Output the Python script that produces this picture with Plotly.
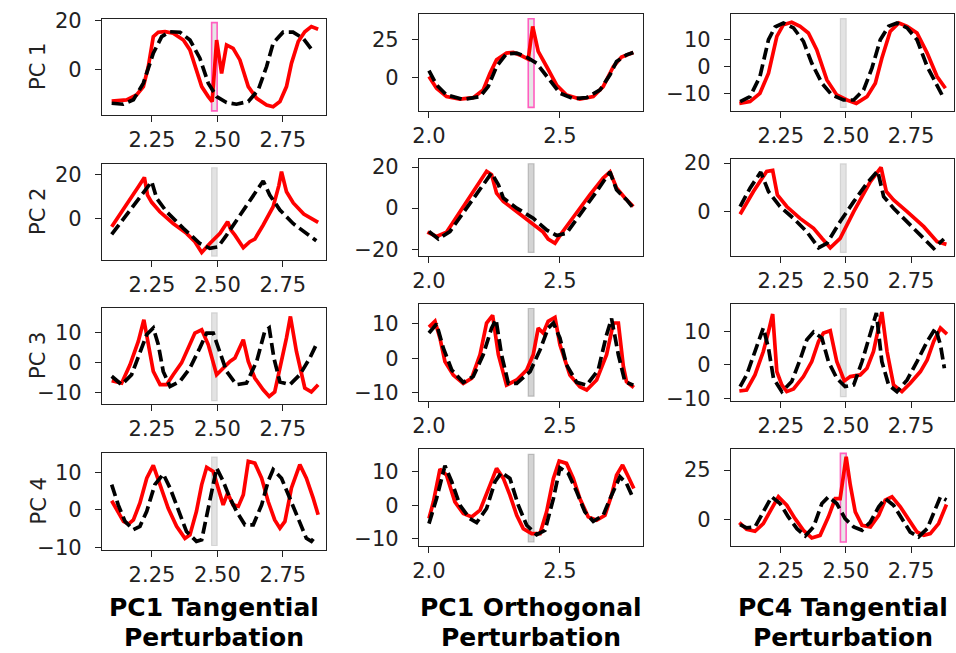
import plotly.graph_objects as go

# ---------------- data ----------------
# Panel (row, col) naming: pRC
p11_red_x = [2.096, 2.153, 2.191, 2.217, 2.236, 2.255, 2.274, 2.300, 2.331, 2.370, 2.395, 2.420, 2.440, 2.465, 2.480, 2.497, 2.516, 2.535, 2.560, 2.586, 2.618, 2.650, 2.688, 2.713, 2.739, 2.764, 2.783, 2.809, 2.834, 2.859, 2.885]
p11_red_y = [-12.7, -12.2, -10.2, -6.8, 1.4, 13.6, 15.4, 15.6, 15.0, 12.2, 8.2, 0.0, -6.8, -10.9, -12.9, 12.2, -1.4, 10.2, 8.8, 4.1, -6.8, -11.6, -14.3, -15.0, -12.9, -6.8, 2.7, 11.6, 15.6, 17.7, 16.6]
p11_blk_x = [2.096, 2.140, 2.179, 2.217, 2.255, 2.287, 2.319, 2.357, 2.395, 2.433, 2.465, 2.497, 2.535, 2.573, 2.618, 2.656, 2.688, 2.713, 2.751, 2.789, 2.828, 2.866]
p11_blk_y = [-13.6, -14.0, -12.2, -5.4, 6.8, 13.6, 15.6, 15.4, 12.2, 4.8, -5.4, -10.9, -13.3, -14.0, -12.9, -8.2, 1.4, 10.9, 15.4, 15.4, 12.9, 7.5]

p12_red_x = [2.000, 2.029, 2.067, 2.118, 2.169, 2.207, 2.233, 2.258, 2.296, 2.322, 2.354, 2.379, 2.396, 2.417, 2.449, 2.487, 2.525, 2.576, 2.627, 2.665, 2.704, 2.735, 2.780]
p12_red_y = [0.7, -7.1, -12.6, -14.2, -13.3, -8.2, 2.9, 11.7, 16.2, 16.6, 14.4, 12.2, 33.8, 17.3, 7.3, -4.9, -11.5, -14.2, -12.6, -6.0, 7.3, 13.5, 16.6]
p12_blk_x = [2.000, 2.029, 2.067, 2.131, 2.195, 2.226, 2.258, 2.296, 2.335, 2.373, 2.411, 2.449, 2.500, 2.551, 2.602, 2.653, 2.691, 2.716, 2.754, 2.780]
p12_blk_y = [4.6, -4.9, -11.5, -14.4, -12.6, -6.0, 7.3, 15.7, 16.2, 13.5, 9.5, 0.7, -10.4, -13.9, -13.3, -8.2, 1.8, 10.6, 15.0, 16.6]

p13_red_x = [2.091, 2.132, 2.170, 2.203, 2.235, 2.260, 2.292, 2.324, 2.356, 2.388, 2.427, 2.465, 2.504, 2.540, 2.581, 2.613, 2.638, 2.670, 2.703, 2.735, 2.773, 2.812, 2.850, 2.882]
p13_red_y = [-13.75, -13.1, -10.0, -2.5, 11.25, 15.6, 16.5, 15.0, 12.5, 6.25, -5.0, -10.6, -12.5, -13.75, -11.25, -6.25, 3.1, 13.1, 16.25, 15.0, 12.5, 5.0, -3.75, -8.1]
p13_blk_x = [2.094, 2.132, 2.170, 2.203, 2.228, 2.260, 2.299, 2.337, 2.369, 2.408, 2.446, 2.491, 2.530, 2.568, 2.600, 2.632, 2.664, 2.696, 2.735, 2.773, 2.812, 2.850, 2.876]
p13_blk_y = [-13.1, -11.25, -3.75, 10.0, 14.75, 16.25, 14.4, 9.4, 1.25, -6.25, -10.6, -12.5, -12.5, -8.75, -0.6, 10.0, 15.0, 16.25, 14.4, 10.0, 0.0, -7.5, -11.9]

p21_red_x = [2.096, 2.153, 2.198, 2.221, 2.233, 2.249, 2.280, 2.331, 2.382, 2.414, 2.440, 2.471, 2.510, 2.539, 2.552, 2.567, 2.599, 2.624, 2.643, 2.675, 2.713, 2.735, 2.745, 2.764, 2.790, 2.830, 2.885]
p21_red_y = [-3.8, 6.8, 14.4, 18.6, 10.6, 7.3, 3.0, -2.3, -6.8, -10.6, -15.5, -11.4, -6.8, -1.5, -5.3, -7.6, -13.3, -10.6, -9.4, -3.0, 5.3, 15.0, 21.2, 12.1, 7.0, 2.0, -1.8]
p21_blk_x = [2.096, 2.153, 2.204, 2.249, 2.268, 2.306, 2.370, 2.433, 2.471, 2.503, 2.535, 2.586, 2.637, 2.675, 2.700, 2.739, 2.789, 2.840, 2.878]
p21_blk_y = [-7.3, 1.5, 9.8, 16.7, 9.1, 3.0, -4.5, -11.4, -13.6, -12.9, -7.6, 1.5, 10.6, 17.0, 10.6, 3.8, -2.3, -6.8, -10.2]

p22_red_x = [1.994, 2.029, 2.067, 2.118, 2.169, 2.220, 2.239, 2.258, 2.284, 2.335, 2.385, 2.436, 2.455, 2.481, 2.506, 2.551, 2.614, 2.665, 2.691, 2.716, 2.748, 2.780]
p22_red_y = [-11.7, -13.8, -11.7, -1.6, 8.1, 17.9, 16.3, 7.3, 3.3, -1.6, -6.5, -11.7, -15.1, -17.1, -12.2, -4.1, 6.5, 14.6, 17.6, 9.8, 4.9, 0.8]
p22_blk_x = [2.000, 2.036, 2.080, 2.131, 2.182, 2.220, 2.239, 2.265, 2.284, 2.335, 2.398, 2.449, 2.487, 2.525, 2.576, 2.640, 2.691, 2.716, 2.754, 2.780]
p22_blk_y = [-11.4, -15.0, -11.4, -2.4, 6.5, 13.0, 17.1, 11.4, 4.9, 0.0, -4.9, -10.6, -13.3, -12.2, -3.3, 8.1, 17.6, 8.9, 4.1, 0.0]

p23_red_x = [2.094, 2.145, 2.196, 2.219, 2.237, 2.273, 2.324, 2.376, 2.408, 2.440, 2.478, 2.530, 2.594, 2.635, 2.655, 2.683, 2.735, 2.799, 2.850, 2.886]
p23_red_y = [-1.1, 8.3, 16.6, 17.0, 6.9, 2.1, -2.8, -6.9, -11.0, -14.9, -11.0, 0.0, 12.4, 18.2, 8.3, 4.8, 0.0, -6.2, -12.4, -13.5]
p23_blk_x = [2.094, 2.132, 2.173, 2.203, 2.247, 2.299, 2.350, 2.395, 2.427, 2.478, 2.530, 2.581, 2.622, 2.645, 2.683, 2.735, 2.786, 2.837, 2.876]
p23_blk_y = [2.1, 9.7, 16.3, 8.3, 2.1, -2.8, -8.3, -14.9, -13.1, -4.1, 4.1, 11.7, 16.8, 6.2, 1.4, -4.1, -9.7, -15.2, -11.3]

p31_red_x = [2.096, 2.134, 2.166, 2.198, 2.219, 2.236, 2.255, 2.281, 2.306, 2.331, 2.363, 2.389, 2.414, 2.440, 2.465, 2.497, 2.522, 2.548, 2.567, 2.599, 2.618, 2.643, 2.675, 2.698, 2.719, 2.745, 2.764, 2.779, 2.802, 2.834, 2.859, 2.885]
p31_red_y = [-6.1, -6.9, -0.8, 7.0, 14.1, 5.9, -3.0, -7.4, -7.4, -4.1, -0.2, 4.8, 9.7, 10.8, 5.9, -4.1, -1.9, 0.3, 1.4, 7.5, 0.3, -5.2, -9.1, -11.3, -9.8, 0.3, 8.1, 15.2, 3.6, -8.5, -9.8, -7.4]
p31_blk_x = [2.096, 2.134, 2.172, 2.204, 2.230, 2.255, 2.274, 2.293, 2.319, 2.357, 2.395, 2.433, 2.459, 2.484, 2.510, 2.535, 2.573, 2.611, 2.650, 2.681, 2.698, 2.716, 2.739, 2.777, 2.815, 2.853, 2.878]
p31_blk_y = [-4.6, -7.4, -4.1, 3.6, 9.2, 11.4, 5.9, -3.0, -8.0, -6.3, -1.9, 4.8, 9.7, 9.7, 3.6, -3.0, -7.4, -6.9, 0.3, 10.3, 11.4, 1.4, -6.5, -7.4, -4.1, 1.4, 5.9]

p32_red_x = [2.000, 2.023, 2.042, 2.061, 2.093, 2.131, 2.163, 2.195, 2.220, 2.243, 2.265, 2.296, 2.335, 2.373, 2.398, 2.417, 2.436, 2.455, 2.481, 2.500, 2.538, 2.576, 2.602, 2.640, 2.678, 2.704, 2.723, 2.742, 2.754, 2.782]
p32_red_y = [9.0, 10.7, 5.8, -1.0, -4.9, -7.3, -5.8, 1.0, 10.2, 12.4, 1.0, -7.8, -6.3, -3.4, 1.0, 8.7, 7.3, 10.7, 11.8, 3.9, -4.9, -8.3, -9.2, -6.3, 1.0, 10.2, 10.2, -2.4, -6.8, -8.5]
p32_blk_x = [2.000, 2.029, 2.055, 2.087, 2.131, 2.169, 2.207, 2.239, 2.256, 2.277, 2.303, 2.335, 2.386, 2.424, 2.455, 2.475, 2.500, 2.525, 2.564, 2.602, 2.646, 2.678, 2.697, 2.723, 2.748, 2.780]
p32_blk_y = [7.3, 9.9, 2.9, -3.4, -7.0, -5.3, 1.0, 8.7, 11.2, 1.0, -7.3, -7.3, -3.9, 2.4, 8.7, 10.2, 5.8, -1.9, -7.0, -7.8, -3.4, 6.8, 11.5, 1.0, -6.8, -7.8]

p33_red_x = [2.091, 2.119, 2.151, 2.183, 2.203, 2.219, 2.235, 2.254, 2.273, 2.299, 2.337, 2.369, 2.395, 2.414, 2.440, 2.465, 2.494, 2.517, 2.555, 2.581, 2.606, 2.622, 2.638, 2.658, 2.683, 2.715, 2.747, 2.786, 2.812, 2.837, 2.863, 2.888]
p33_red_y = [-7.8, -7.5, -3.0, 4.0, 10.0, 15.2, -2.0, -6.0, -8.0, -7.2, -3.5, 1.0, 7.0, 9.5, 10.2, 1.0, -4.8, -3.5, -3.0, -1.0, 4.0, 10.0, 15.8, 4.0, -6.0, -8.0, -5.5, -2.0, 1.5, 7.0, 11.0, 9.2]
p33_blk_x = [2.094, 2.119, 2.151, 2.183, 2.203, 2.222, 2.254, 2.292, 2.324, 2.350, 2.376, 2.408, 2.433, 2.465, 2.497, 2.530, 2.562, 2.594, 2.617, 2.638, 2.664, 2.696, 2.735, 2.773, 2.812, 2.844, 2.863, 2.878]
p33_blk_y = [-6.5, -3.0, 4.0, 11.0, 5.0, -4.0, -8.0, -5.0, 1.5, 7.5, 9.8, 8.0, 1.0, -4.0, -6.5, -6.0, 1.0, 9.0, 15.5, 1.0, -6.0, -8.0, -4.5, 1.0, 7.0, 11.0, 6.0, -1.0]

p41_red_x = [2.096, 2.121, 2.141, 2.160, 2.179, 2.204, 2.230, 2.255, 2.281, 2.312, 2.344, 2.376, 2.395, 2.420, 2.440, 2.459, 2.484, 2.510, 2.522, 2.539, 2.560, 2.580, 2.599, 2.618, 2.643, 2.669, 2.694, 2.719, 2.739, 2.758, 2.783, 2.815, 2.840, 2.866, 2.885]
p41_red_y = [2.4, -0.9, -3.1, -3.8, -2.7, 1.8, 8.4, 11.8, 6.7, 0.4, -4.4, -7.6, -6.7, -0.4, 6.7, 11.3, 10.2, 4.0, 1.3, 4.4, 1.3, 0.9, 4.0, 12.9, 12.4, 8.4, 2.2, -2.7, -4.9, -3.1, 5.8, 12.0, 8.4, 3.1, -1.3]
p41_blk_x = [2.096, 2.121, 2.147, 2.179, 2.204, 2.230, 2.261, 2.293, 2.319, 2.351, 2.382, 2.420, 2.440, 2.465, 2.497, 2.522, 2.548, 2.573, 2.605, 2.637, 2.669, 2.694, 2.713, 2.745, 2.777, 2.809, 2.840, 2.859, 2.878]
p41_blk_y = [6.7, 1.3, -3.1, -5.3, -4.4, -0.4, 6.7, 9.5, 5.8, -0.4, -5.8, -8.4, -8.0, 0.4, 11.1, 7.6, 3.1, -0.4, -4.0, -4.0, 1.3, 7.6, 10.7, 8.4, 3.1, -2.2, -7.6, -8.4, -6.7]

p42_red_x = [2.000, 2.017, 2.042, 2.067, 2.099, 2.131, 2.163, 2.195, 2.233, 2.258, 2.284, 2.309, 2.335, 2.360, 2.392, 2.424, 2.449, 2.475, 2.497, 2.525, 2.551, 2.576, 2.608, 2.640, 2.672, 2.697, 2.716, 2.739, 2.761, 2.782]
p42_red_y = [-4.0, 1.0, 10.8, 9.0, 1.0, -2.5, -3.5, -1.5, 6.0, 11.0, 8.0, 3.0, -3.0, -7.0, -8.5, -8.5, -2.0, 8.0, 13.2, 12.5, 8.0, 2.0, -3.5, -4.5, -3.0, 3.0, 9.0, 12.0, 8.5, 5.0]
p42_blk_x = [2.000, 2.029, 2.061, 2.087, 2.118, 2.156, 2.182, 2.220, 2.252, 2.277, 2.309, 2.341, 2.373, 2.411, 2.443, 2.475, 2.500, 2.532, 2.564, 2.595, 2.627, 2.665, 2.697, 2.729, 2.754, 2.780]
p42_blk_y = [-5.5, 2.0, 11.8, 7.0, 0.0, -4.0, -5.2, -1.0, 7.0, 9.8, 8.0, 0.0, -6.0, -8.8, -7.5, 2.0, 11.2, 9.5, 4.0, -2.0, -4.8, -3.0, 3.0, 8.5, 6.5, 2.0]

p43_red_x = [2.091, 2.119, 2.151, 2.183, 2.215, 2.241, 2.273, 2.305, 2.337, 2.369, 2.401, 2.433, 2.459, 2.478, 2.501, 2.517, 2.536, 2.562, 2.594, 2.626, 2.651, 2.677, 2.709, 2.741, 2.773, 2.799, 2.824, 2.856, 2.886]
p43_red_y = [-1.7, -5.1, -6.1, -2.2, 5.4, 11.4, 7.1, 0.3, -5.6, -9.5, -8.2, 1.2, 10.5, 10.5, 31.8, 17.3, 3.7, -3.1, -3.9, 2.0, 9.7, 11.4, 6.3, -0.5, -6.5, -8.2, -7.3, -2.2, 7.5]
p43_blk_x = [2.094, 2.119, 2.151, 2.183, 2.215, 2.247, 2.279, 2.312, 2.344, 2.376, 2.408, 2.433, 2.465, 2.497, 2.530, 2.562, 2.594, 2.626, 2.651, 2.683, 2.715, 2.747, 2.779, 2.812, 2.844, 2.863, 2.886]
p43_blk_y = [-2.7, -4.4, -3.9, 3.7, 11.4, 8.0, 1.2, -4.8, -8.5, -3.9, 8.0, 11.4, 8.0, 0.3, -3.9, -5.6, -1.4, 6.3, 10.5, 7.1, 0.3, -6.5, -9.0, -4.8, 5.4, 11.4, 9.7]

# highlighted perturbation window per panel: x0, x1, y0, y1, pink outline?
rect_x0 = [2.478, 2.379, 2.479, 2.478, 2.379, 2.479, 2.478, 2.379, 2.479, 2.478, 2.379, 2.479]
rect_x1 = [2.499, 2.401, 2.501, 2.499, 2.401, 2.501, 2.499, 2.401, 2.501, 2.499, 2.401, 2.501]
rect_y0 = [-16.7, -19.7, -15.25, -17.1, -21.5, -16.8, -12.7, -11.0, -9.5, -9.5, -11.0, -11.6]
rect_y1 = [19.3, 38.9, 17.9, 23.0, 21.6, 19.7, 16.4, 14.4, 16.8, 14.0, 15.2, 33.5]
rect_pink = [True, True, False, False, False, False, False, False, False, False, False, True]

# y-axis ranges and ticks per panel
y_lo = [-18.4, -22.1, -16.6, -18.9, -23.3, -18.3, -13.8, -12.4, -10.8, -10.7, -12.2, -13.6]
y_hi = [20.8, 42.0, 19.6, 24.7, 23.9, 21.7, 18.0, 15.7, 18.2, 15.1, 16.8, 35.7]
y_ticks = [[0, 20], [0, 25], [-10, 0, 10],
           [0, 20], [-20, 0, 20], [0, 20],
           [-10, 0, 10], [-10, 0, 10], [-10, 0, 10],
           [-10, 0, 10], [-10, 0, 10], [0, 25]]

x_ticks_tan = [2.25, 2.50, 2.75]
x_ticks_orth = [2.0, 2.5]

row_labels = ["PC 1", "PC 2", "PC 3", "PC 4"]
col_titles = [("PC1 Tangential", "Perturbation"),
              ("PC1 Orthogonal", "Perturbation"),
              ("PC4 Tangential", "Perturbation")]

red_x = [p11_red_x, p12_red_x, p13_red_x, p21_red_x, p22_red_x, p23_red_x,
         p31_red_x, p32_red_x, p33_red_x, p41_red_x, p42_red_x, p43_red_x]
red_y = [p11_red_y, p12_red_y, p13_red_y, p21_red_y, p22_red_y, p23_red_y,
         p31_red_y, p32_red_y, p33_red_y, p41_red_y, p42_red_y, p43_red_y]
blk_x = [p11_blk_x, p12_blk_x, p13_blk_x, p21_blk_x, p22_blk_x, p23_blk_x,
         p31_blk_x, p32_blk_x, p33_blk_x, p41_blk_x, p42_blk_x, p43_blk_x]
blk_y = [p11_blk_y, p12_blk_y, p13_blk_y, p21_blk_y, p22_blk_y, p23_blk_y,
         p31_blk_y, p32_blk_y, p33_blk_y, p41_blk_y, p42_blk_y, p43_blk_y]

# ---------------- layout ----------------
W, H = 956, 653
FONT = "DejaVu Sans"
TXT = "#222222"
AX = "#222222"

col_px = [(102, 326), (419, 643), (731, 954)]
row_px_c1 = [(19, 115), (164, 260), (308, 404), (453, 550)]
row_px_c23 = [(14, 111), (159, 256), (304, 401), (449, 546)]

def xdom(c):
    a, b = col_px[c]
    return [a / W, b / W]

def ydom(r, c):
    a, b = (row_px_c1 if c == 0 else row_px_c23)[r]
    return [1 - b / H, 1 - a / H]

fig = go.Figure()
layout = dict(
    template="none",
    width=W, height=H, autosize=False,
    margin=dict(l=0, r=0, t=0, b=0, pad=0, autoexpand=False),
    paper_bgcolor="white", plot_bgcolor="white",
    showlegend=False,
    font=dict(family=FONT, color=TXT, size=21),
)
shapes = []
annotations = []

for k in range(12):
    r, c = divmod(k, 3)
    n = k + 1
    xa = "x" if n == 1 else f"x{n}"
    ya = "y" if n == 1 else f"y{n}"
    fig.add_trace(go.Scatter(x=red_x[k], y=red_y[k], mode="lines",
                             line=dict(color="#ff0000", width=3.7),
                             xaxis=xa, yaxis=ya, hoverinfo="skip"))
    fig.add_trace(go.Scatter(x=blk_x[k], y=blk_y[k], mode="lines",
                             line=dict(color="#000000", width=3.7, dash="12px,5px"),
                             xaxis=xa, yaxis=ya, hoverinfo="skip"))
    if c == 1:
        xr = [1.962, 2.817]
        tv = x_ticks_orth
        tt = [f"{v:.1f}" for v in tv]
    else:
        xr = [2.059, 2.915]
        tv = x_ticks_tan
        tt = [f"{v:.2f}" for v in tv]
    axcommon = dict(showgrid=False, zeroline=False, showline=True, linecolor=AX,
                    linewidth=1.3, mirror=True, ticks="outside", ticklen=6,
                    tickwidth=1.3, tickcolor=AX, automargin=False,
                    tickfont=dict(family=FONT, size=21, color=TXT))
    layout["xaxis" if n == 1 else f"xaxis{n}"] = dict(
        domain=xdom(c), range=xr, anchor=ya, tickvals=tv, ticktext=tt,
        ticklabelstandoff=0, **axcommon)
    layout["yaxis" if n == 1 else f"yaxis{n}"] = dict(
        domain=ydom(r, c), range=[y_lo[k], y_hi[k]], anchor=xa,
        tickvals=y_ticks[k], ticktext=[str(v).replace("-", "\u2212") for v in y_ticks[k]],
        ticklabelstandoff=9, **axcommon)
    if rect_pink[k]:
        lc, fc, lw = "#ff5fc0", "rgba(200,200,200,0.45)", 1.6
    elif c == 1:
        lc, fc, lw = "rgba(150,150,150,0.55)", "rgba(170,170,170,0.5)", 1.2
    else:
        lc, fc, lw = "rgba(190,190,190,0.55)", "rgba(200,200,200,0.5)", 1.2
    shapes.append(dict(type="rect", xref=xa, yref=ya,
                       x0=rect_x0[k], x1=rect_x1[k], y0=rect_y0[k], y1=rect_y1[k],
                       line=dict(color=lc, width=lw), fillcolor=fc, layer="below"))

# row labels
for r in range(4):
    a, b = row_px_c1[r]
    annotations.append(dict(text=row_labels[r], xref="paper", yref="paper",
                            x=38 / W, y=1 - (a + b) / 2 / H, showarrow=False,
                            textangle=-90, font=dict(family=FONT, size=21, color=TXT),
                            xanchor="center", yanchor="middle"))

# column titles (two bold lines, bottom line sits on the lower edge)
for c in range(3):
    a, b = col_px[c]
    cx = (a + b) / 2 / W
    for line_txt, bottom_px in zip(col_titles[c], (623, 653)):
        annotations.append(dict(text=f"<b>{line_txt}</b>", xref="paper", yref="paper",
                                x=cx, y=1 - bottom_px / H, showarrow=False,
                                font=dict(family=FONT, size=25, color="#000000"),
                                xanchor="center", yanchor="bottom", borderpad=0))

layout["shapes"] = shapes
layout["annotations"] = annotations
fig.update_layout(**layout)
fig.write_html("out.html",
               config={"displayModeBar": False},
               post_script="document.documentElement.style.margin='0px';"
                           "document.body.style.margin='0px';"
                           "document.body.style.overflow='hidden';")
